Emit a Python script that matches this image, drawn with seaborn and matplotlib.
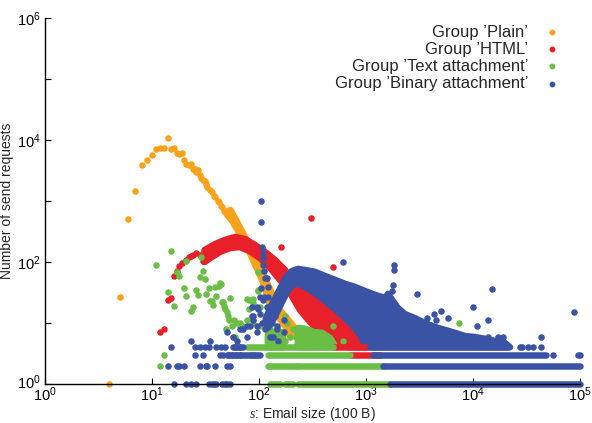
import matplotlib
matplotlib.use("Agg")
import seaborn as sns
import matplotlib.pyplot as plt
from matplotlib.lines import Line2D
from matplotlib.transforms import ScaledTranslation
from matplotlib.ticker import FixedLocator, NullFormatter, NullLocator

# ---- data: x = email size (100 B), y = number of send requests ----
group_names = ["Group \u2019Plain\u2019", "Group \u2019HTML\u2019",
               "Group \u2019Text attachment\u2019", "Group \u2019Binary attachment\u2019"]
group_colors = ["#F7A21B", "#E8202A", "#6ABD45", "#3A53A4"]

# Plain: single points, plus the dense tail as an outline
plain_x = [4, 5, 6, 7, 8, 9, 10, 11, 12, 13, 14, 15, 16, 17, 18, 19, 20, 21, 22, 23, 24, 25, 26, 27,
           28, 29, 30, 31, 32, 33, 35, 36, 38, 39, 41, 42, 44, 45, 47, 48, 50, 52, 226]
plain_y = [1, 27, 500, 1450, 3900, 4700, 5600, 7000, 7500, 7400, 10800, 7000, 7300, 6100, 6000, 6200,
           4700, 4000, 3900, 4000, 3400, 3300, 3000, 3200, 2700, 2400, 2200, 2100, 1900, 1700, 1500,
           1400, 1200, 1150, 1000, 950, 820, 800, 680, 660, 580, 550, 2]
plain_band_x = [54, 61, 74, 88, 107, 124, 141, 157, 183, 212, 222, 195, 179, 154, 135, 121, 114, 98,
                82, 69, 57, 49]
plain_band_y = [712, 488, 257, 141, 71, 39, 24, 16, 12, 8.6, 6.1, 6.1, 8.6, 12, 16, 24, 39, 71, 141,
                257, 453, 660]

# HTML
html_x = [12, 13, 14, 15, 16, 17, 18, 19, 21, 22, 23, 24, 26, 28, 30, 31, 33, 36, 39, 160, 304, 495, 490]
html_y = [7, 8, 24, 26, 60, 70, 85, 95, 108, 120, 125, 130, 140, 130, 105, 160, 165, 185, 190, 178,
          520, 84, 21]
html_band_x = [31, 39, 48, 60, 74, 92, 114, 141, 175, 203, 242, 300, 372, 461, 571, 708, 842, 979,
               708, 571, 461, 372, 300, 242, 195, 157, 127, 102, 82, 66, 54, 43, 35, 31]
html_band_y = [157, 197, 230, 257, 238, 190, 146, 108, 74, 49, 36, 28, 20.5, 15, 11.2, 7.7, 5.3, 4,
               4, 4.2, 5.3, 7.1, 10.4, 16.3, 31, 51, 80, 116, 151, 176, 170, 146, 116, 100]
html_row_y = [4, 3]
html_row_x0 = [491, 708]
html_row_x1 = [1022, 1352]

# Text attachment
text_x = [15, 11, 21, 29, 17, 18, 30, 28, 31, 20, 26, 34, 44, 42, 43, 39, 14, 21, 27, 32, 40, 16, 24,
          23, 35, 36, 37, 45, 46, 47, 48, 54, 50, 51, 53, 58, 62, 66, 71, 77, 78, 80, 80, 87, 88, 98,
          97, 98, 102, 70, 49, 56, 60, 88, 102, 114, 118, 127, 141, 175, 182, 209, 157, 175, 195, 222,
          495, 614, 7400, 13, 12]
text_y = [150, 91, 102, 119, 69, 59, 72, 56, 53, 37, 35, 38, 44, 40, 45, 39, 32, 28, 29, 30, 28, 19,
          18, 16, 23, 23, 20, 22, 22, 19, 17, 26, 15, 13, 11, 11, 10, 10, 9, 11, 25, 17, 24, 25, 21,
          35, 69, 33, 18, 8, 8, 9, 6, 10, 9, 11, 9, 8, 7, 13, 10, 8, 5, 5, 6, 6, 9, 5, 10, 3, 2]
text_band_x = [231, 275, 327, 388, 461, 502, 502, 231]
text_band_y = [8.3, 8.0, 7.1, 6.9, 5.7, 4.5, 4, 4]
text_band2_x = [121, 144, 168, 168, 121]
text_band2_y = [6.4, 7.4, 6.9, 4, 4]
text_row_y = [4, 4, 3, 3, 2, 2, 1, 1, 1]
text_row_x0 = [77, 127, 82, 121, 121, 231, 127, 175, 231]
text_row_x1 = [119, 491, 92, 708, 222, 1440, 157, 208, 1675]

# Binary attachment
binary_x = [104, 104, 106, 606, 1830, 1830, 1800, 1740, 2980, 15000, 5000, 4300, 3700, 4500, 5900,
            10000, 10800, 13900, 88000, 43000, 13700, 17000, 19000, 19000, 836,
            23, 35, 50, 57, 62, 71, 77, 82, 86, 88, 95, 102, 106, 114, 118, 122, 127, 131, 141, 146,
            151, 66, 77, 86, 98, 110, 110, 108, 112, 114, 102, 110, 95, 118, 136, 127, 88, 95, 146,
            171, 136, 171, 118, 104, 122, 111, 122,
            15, 25, 28, 31, 34, 40, 44, 48, 60, 66,
            25, 30, 43, 46, 51, 56, 61, 66,
            14, 17, 18, 20, 28, 32, 33, 39, 50, 54,
            16, 21, 23, 26, 34, 36, 38, 40, 45, 48, 50, 54,
            27500, 29000, 33000, 36000, 43000,
            55600, 95000, 100000]
binary_y = [1010, 448, 178, 100, 90, 75, 42, 33, 30, 36, 16, 14, 12, 11, 12,
            18, 9, 11, 15, 6, 6, 6, 6, 5, 8,
            5, 5, 7, 6, 5, 8, 6, 9, 13, 11, 7, 14, 10, 8, 13, 18, 6, 10, 13, 8,
            5, 8, 9, 18, 17, 115, 89, 140, 70, 54, 27, 24, 18, 18, 16, 11, 13, 9, 9,
            11, 6, 7, 54, 37, 39, 27, 27,
            4, 4, 4, 4, 4, 4, 4, 4, 4, 4,
            3, 3, 3, 3, 3, 3, 3, 3,
            2, 2, 2, 2, 2, 2, 2, 2, 2, 2,
            1, 1, 1, 1, 1, 1, 1, 1, 1, 1, 1, 1,
            4, 4, 4, 4, 4,
            3, 3, 3]
binary_band_x = [116, 132, 147, 164, 183, 203, 231, 269, 334, 414, 513, 636, 789, 979, 1210, 1510,
                 1607, 1750, 1990, 2310, 2870, 3560, 4410, 5470, 6790, 8420, 10400, 14400, 19900,
                 22200, 1090, 979, 918, 789, 636, 513, 414, 334, 269, 226, 199, 183, 168, 151, 135, 121]
binary_band_y = [12, 20, 29, 42, 59, 71, 77, 74, 69, 59, 51, 44, 39, 33.5, 29, 25.7, 30, 24, 17.6,
                 14, 12, 10, 8.6, 7.7, 6.9, 6.1, 5.9, 5.3, 4.7, 4, 4, 4, 5.7, 8.3, 12.1, 17, 23, 31,
                 39, 45, 40, 32, 24, 16.3, 11.2, 8.3]
binary_row_y = [4, 4, 3, 3, 2, 1]
binary_row_x0 = [57, 1090, 50, 1160, 1440, 1675]
binary_row_x1 = [71, 21000, 102, 48000, 100000, 100000]

# ---- style ----
sns.set_style("ticks")
plt.rcParams["font.family"] = ["Liberation Sans", "DejaVu Sans"]
plt.rcParams["mathtext.fontset"] = "custom"
plt.rcParams["mathtext.rm"] = "Liberation Sans"
plt.rcParams["mathtext.it"] = "Liberation Serif:italic"
plt.rcParams["mathtext.default"] = "regular"

fig = plt.figure(figsize=(5.92, 4.23), dpi=100)
ax = fig.add_axes([0.076, 0.0922, 0.9037, 0.8652])
ax.set_xscale("log")
ax.set_yscale("log")

DOT = 22     # marker area (pt^2)
LW = 4.7     # dot diameter in pt, used for dense rows and outlines


def draw_group(color, px, py, bands, ry, rx0, rx1):
    if ry:
        ax.hlines(ry, rx0, rx1, colors=color, linewidth=LW, capstyle="round", clip_on=False)
    for bx, by in bands:
        ax.fill(bx, by, color=color, linewidth=LW, joinstyle="round", clip_on=False)
    sns.scatterplot(x=px, y=py, color=color, s=DOT, linewidth=0, ax=ax, clip_on=False, legend=False)


draw_group(group_colors[0], plain_x, plain_y, [(plain_band_x, plain_band_y)], [], [], [])
draw_group(group_colors[1], html_x, html_y, [(html_band_x, html_band_y)], html_row_y, html_row_x0, html_row_x1)
draw_group(group_colors[2], text_x, text_y, [(text_band_x, text_band_y), (text_band2_x, text_band2_y)],
           text_row_y, text_row_x0, text_row_x1)
draw_group(group_colors[3], binary_x, binary_y, [(binary_band_x, binary_band_y)],
           binary_row_y, binary_row_x0, binary_row_x1)

ax.set_xlim(1, 1e5)
ax.set_ylim(1, 1e6)
ax.xaxis.set_major_locator(FixedLocator([1, 10, 100, 1e3, 1e4, 1e5]))
ax.xaxis.set_minor_locator(NullLocator())
ax.yaxis.set_major_locator(FixedLocator([1, 1e2, 1e4, 1e6]))
ax.yaxis.set_minor_locator(FixedLocator([10, 1e3, 1e5]))
ax.yaxis.set_minor_formatter(NullFormatter())
ax.tick_params(which="both", direction="in", length=4, width=0.8, labelsize=10.5, colors="black")
ax.tick_params(axis="x", pad=1)
ax.tick_params(axis="y", pad=3)
for s in ["left", "bottom"]:
    ax.spines[s].set_linewidth(1.0)
    ax.spines[s].set_color("black")
sns.despine(ax=ax)

# lift the lowest y label a touch so it clears the x "10^0"
lab0 = ax.yaxis.get_major_ticks()[0].label1
lab0.set_transform(lab0.get_transform() + ScaledTranslation(0, 3 / 100, fig.dpi_scale_trans))

ax.set_xlabel("$\\mathit{s}$: Email size (100 B)", fontsize=10)
ax.xaxis.set_label_coords(0.5, -0.058)
ax.set_ylabel("Number of send requests", fontsize=10)
ax.yaxis.set_label_coords(-0.057, 0.5)

# legend: text right-aligned, dot on the right
for i, (lab, col) in enumerate(zip(group_names, group_colors)):
    yy = 0.924 - i * 0.0405
    fig.text(0.892, yy, lab, ha="right", va="center", fontsize=12)
    fig.add_artist(Line2D([0.9326], [yy], marker="o", ms=3.2, color=col, linestyle="none",
                          transform=fig.transFigure))

fig.savefig("out.png", dpi=100)
